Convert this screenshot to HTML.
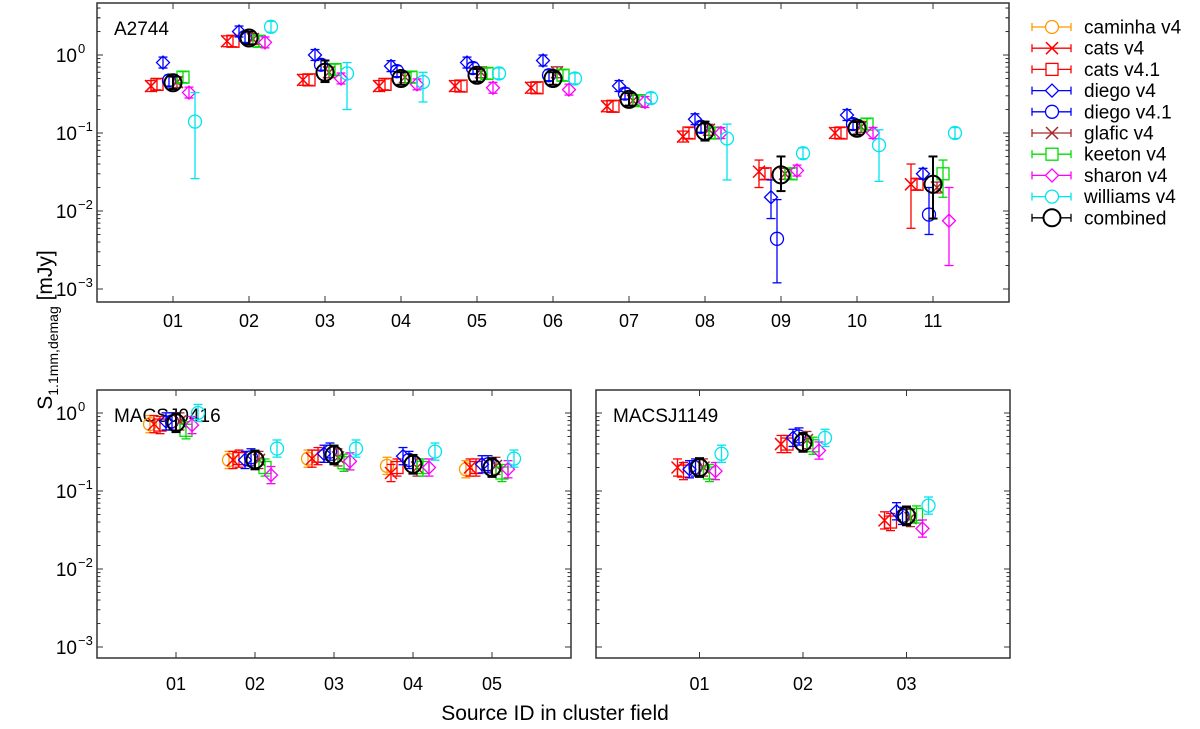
<!DOCTYPE html>
<html><head><meta charset="utf-8"><style>
html,body{margin:0;padding:0;background:#fff;}
svg{display:block;font-family:"Liberation Sans",Arial,sans-serif;}
</style></head><body>
<svg id="chart" width="1200" height="729" viewBox="0 0 1200 729"></svg>
<script>
const seriesNames = ["caminha v4","cats v4","cats v4.1","diego v4","diego v4.1","glafic v4","keeton v4","sharon v4","williams v4","combined"];
const seriesColors = ["#ff9900","#ff0000","#ff0000","#0000ff","#0000ff","#a52a2a","#00dd00","#ff00ff","#00e5ee","#000000"];
const seriesMarkers = ["circle","x","square","diamond","circle","x","square","diamond","circle","circle"];
const seriesOffsets = [-26,-22,-16,-10,-4,4,10,16,22,0];

const a2744Categories = ["01","02","03","04","05","06","07","08","09","10","11"];
const a2744Caminha = [null,null,null,null,null,null,null,null,null,null,null];
const a2744CatsV4 = [0.40,1.5,0.48,0.40,0.40,0.38,0.22,0.09,0.032,0.10,0.022];
const a2744CatsV41 = [0.42,1.5,0.48,0.42,0.40,0.38,0.22,0.10,0.030,0.10,0.022];
const a2744DiegoV4 = [0.80,2.0,1.0,0.72,0.80,0.85,0.40,0.15,0.015,0.17,0.03];
const a2744DiegoV41 = [0.47,1.7,0.75,0.62,0.68,0.55,0.32,0.12,0.0044,0.13,0.009];
const a2744Glafic = [0.45,1.6,0.6,0.52,0.6,0.6,0.26,0.11,0.03,0.12,0.02];
const a2744Keeton = [0.52,1.5,0.65,0.52,0.58,0.55,0.26,0.10,0.03,0.13,0.03];
const a2744Sharon = [0.33,1.45,0.5,0.42,0.38,0.36,0.25,0.10,0.033,0.10,0.0075];
const a2744Williams = [0.14,2.3,0.58,0.45,0.58,0.5,0.28,0.085,0.055,0.07,0.10];
const a2744Combined = [0.44,1.65,0.6,0.5,0.55,0.5,0.27,0.105,0.029,0.115,0.022];

const m0416Categories = ["01","02","03","04","05"];
const m0416Caminha = [0.72,0.25,0.26,0.21,0.19];
const m0416CatsV4 = [0.72,0.25,0.26,0.17,0.20];
const m0416CatsV41 = [0.70,0.26,0.28,0.20,0.20];
const m0416DiegoV4 = [0.78,0.25,0.30,0.28,0.22];
const m0416DiegoV41 = [0.78,0.27,0.32,0.25,0.22];
const m0416Glafic = [0.78,0.25,0.27,0.20,0.21];
const m0416Keeton = [0.60,0.20,0.23,0.20,0.17];
const m0416Sharon = [0.70,0.16,0.24,0.20,0.19];
const m0416Williams = [1.0,0.35,0.35,0.32,0.26];
const m0416Combined = [0.75,0.25,0.29,0.22,0.20];

const m1149Categories = ["01","02","03"];
const m1149Caminha = [null,null,null];
const m1149CatsV4 = [0.20,0.40,0.042];
const m1149CatsV41 = [0.18,0.40,0.040];
const m1149DiegoV4 = [0.19,0.48,0.055];
const m1149DiegoV41 = [0.20,0.50,0.048];
const m1149Glafic = [0.20,0.45,0.045];
const m1149Keeton = [0.17,0.38,0.050];
const m1149Sharon = [0.18,0.33,0.033];
const m1149Williams = [0.30,0.48,0.065];
const m1149Combined = [0.20,0.42,0.048];

// [panel, seriesIndex, categoryIndex, low, high]
const errOverrides = [
 [0,8,0,0.026,0.33],[0,8,2,0.2,0.8],[0,8,3,0.25,0.6],[0,8,7,0.025,0.13],
 [0,4,8,0.0012,0.014],[0,8,9,0.024,0.11],[0,7,10,0.002,0.02],
 [0,9,8,0.018,0.05],[0,9,10,0.008,0.05],[0,1,10,0.006,0.04],[0,4,10,0.005,0.02],
 [0,1,8,0.02,0.045],[0,3,8,0.008,0.025],[0,6,10,0.015,0.045],[0,9,7,0.08,0.14],[0,9,2,0.45,0.85]
];

const panels = [
 {name:"A2744", cats:a2744Categories, data:[a2744Caminha,a2744CatsV4,a2744CatsV41,a2744DiegoV4,a2744DiegoV41,a2744Glafic,a2744Keeton,a2744Sharon,a2744Williams,a2744Combined],
  x0:97,x1:1009,yTop:3,yBot:302,y0:55,dec:78, labelY:327, yLabels:true, err:0.07},
 {name:"MACSJ0416", cats:m0416Categories, data:[m0416Caminha,m0416CatsV4,m0416CatsV41,m0416DiegoV4,m0416DiegoV41,m0416Glafic,m0416Keeton,m0416Sharon,m0416Williams,m0416Combined],
  x0:97,x1:571,yTop:390,yBot:658,y0:413,dec:78, labelY:690, yLabels:true, err:0.11},
 {name:"MACSJ1149", cats:m1149Categories, data:[m1149Caminha,m1149CatsV4,m1149CatsV41,m1149DiegoV4,m1149DiegoV41,m1149Glafic,m1149Keeton,m1149Sharon,m1149Williams,m1149Combined],
  x0:596,x1:1010,yTop:390,yBot:658,y0:413,dec:78, labelY:690, yLabels:false, err:0.11}
];

const NS="http://www.w3.org/2000/svg";
const svg=document.getElementById('chart');
function mk(tag,attrs,parent){const e=document.createElementNS(NS,tag);for(const k in attrs)e.setAttribute(k,attrs[k]);(parent||svg).appendChild(e);return e;}

function drawMarker(g,type,x,y,c,big){
  const r=big?8.5:6.5;
  if(type==="circle") return mk('circle',{cx:x,cy:y,r:r,fill:'none',stroke:c,'stroke-width':big?2:1.3},g);
  if(type==="square") return mk('rect',{x:x-6,y:y-6,width:12,height:12,fill:'none',stroke:c,'stroke-width':1.3},g);
  if(type==="diamond") return mk('path',{d:`M${x} ${y-6.5}L${x+6.5} ${y}L${x} ${y+6.5}L${x-6.5} ${y}Z`,fill:'none',stroke:c,'stroke-width':1.3},g);
  return mk('path',{d:`M${x-6} ${y-6}L${x+6} ${y+6}M${x-6} ${y+6}L${x+6} ${y-6}`,fill:'none',stroke:c,'stroke-width':1.5},g);
}

panels.forEach((p,pi)=>{
  const pg=mk('g',{});
  
  
  const n=p.cats.length;
  const xs=(i)=>p.x0+(i+1)*(p.x1-p.x0)/(n+1);
  const ys=(v)=>p.y0-Math.log10(v)*p.dec;
  const frame=mk('rect',{x:p.x0,y:p.yTop,width:p.x1-p.x0,height:p.yBot-p.yTop,fill:'none',stroke:'#333','stroke-width':1.5},pg);
  
  
  for(let d=-3;d<=0;d++){
    for(let m=1;m<=9;m++){
      const v=m*Math.pow(10,d);const y=ys(v);
      if(y<p.yTop||y>p.yBot)continue;
      const L=m===1?6:3.5;
      mk('line',{x1:p.x0,x2:p.x0+L,y1:y,y2:y,stroke:'#333','stroke-width':1},pg);
      mk('line',{x1:p.x1,x2:p.x1-L,y1:y,y2:y,stroke:'#333','stroke-width':1},pg);
      if(m===1&&p.yLabels){
        const t=mk('text',{x:77,y:y+7,'text-anchor':'end','font-size':19,fill:'#000'},pg);
        t.textContent='10';
        
        
        const s=mk('text',{x:78,y:y-2,'font-size':13,fill:'#000'},pg);
        s.textContent=d===0?'0':'\u2212'+(-d);
      }
    }
  }
  for(let m=2;m<=9;m++){const y=ys(m);if(y>=p.yTop){mk('line',{x1:p.x0,x2:p.x0+3.5,y1:y,y2:y,stroke:'#333'},pg);mk('line',{x1:p.x1,x2:p.x1-3.5,y1:y,y2:y,stroke:'#333'},pg);}}
  p.cats.forEach((c,i)=>{
    const x=xs(i);
    mk('line',{x1:x,x2:x,y1:p.yBot,y2:p.yBot-6,stroke:'#333'},pg);
    mk('line',{x1:x,x2:x,y1:p.yTop,y2:p.yTop+6,stroke:'#333'},pg);
    const t=mk('text',{x:x,y:p.labelY,'text-anchor':'middle','font-size':18,fill:'#000'},pg);
    t.textContent=c;
    
    
  });
  const lbl=mk('text',{x:p.x0+17,y:p.yTop+32,'font-size':19,fill:'#000'},pg);
  lbl.textContent=p.name;
  
  
  p.data.forEach((arr,si)=>{
    const sg=mk('g',{});
    pg.appendChild(sg);
    
    
    const c=seriesColors[si];const big=si===9;
    arr.forEach((v,i)=>{
      if(v==null)return;
      const x=xs(i)+seriesOffsets[si];
      const e=big?p.err+0.01:p.err;
      let lo=v*Math.pow(10,-e), hi=v*Math.pow(10,e);
      errOverrides.forEach(o=>{if(o[0]===pi&&o[1]===si&&o[2]===i){lo=o[3];hi=o[4];}});
      const w=big?2:1.3;
      mk('line',{x1:x,x2:x,y1:ys(lo),y2:ys(hi),stroke:c,'stroke-width':w},sg);
      mk('line',{x1:x-4.5,x2:x+4.5,y1:ys(lo),y2:ys(lo),stroke:c,'stroke-width':w},sg);
      mk('line',{x1:x-4.5,x2:x+4.5,y1:ys(hi),y2:ys(hi),stroke:c,'stroke-width':w},sg);
      const mkEl=drawMarker(sg,seriesMarkers[si],x,ys(v),c,big);
      
      
    });
  });
});

const lg=mk('g',{});


seriesNames.forEach((nm,si)=>{
  const y=27+si*21.2;const c=seriesColors[si];
  const eg=mk('g',{},lg);
  
  
  mk('line',{x1:1032,x2:1071,y1:y,y2:y,stroke:c,'stroke-width':1.3},eg);
  mk('line',{x1:1032,x2:1032,y1:y-4,y2:y+4,stroke:c,'stroke-width':1.3},eg);
  mk('line',{x1:1071,x2:1071,y1:y-4,y2:y+4,stroke:c,'stroke-width':1.3},eg);
  const m=drawMarker(eg,seriesMarkers[si],1052,y,c,si===9);
  m.setAttribute('fill','#fff');
  const t=mk('text',{x:1084,y:y+6.5,'font-size':19,fill:'#000'},eg);
  t.textContent=nm;
});

const yt=mk('text',{x:0,y:0,'font-size':21,fill:'#000','text-anchor':'middle',transform:'translate(52,330) rotate(-90)'});


yt.innerHTML='S<tspan font-size="14" dy="6">1.1mm,demag</tspan><tspan dy="-6"> [mJy]</tspan>';
const xt=mk('text',{x:555,y:720,'font-size':21,fill:'#000','text-anchor':'middle'});
xt.textContent='Source ID in cluster field';


</script>
</body></html>
